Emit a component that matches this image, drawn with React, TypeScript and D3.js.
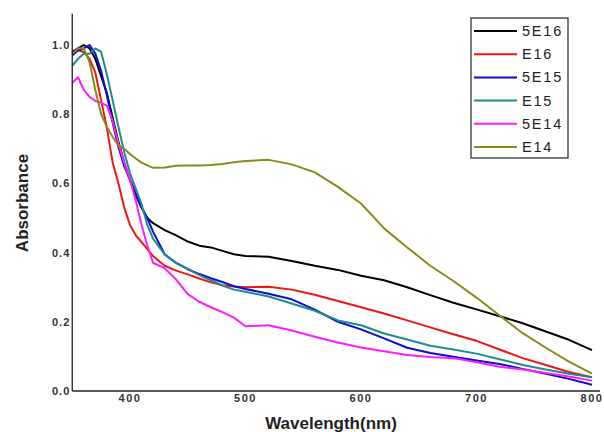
import React from 'react';
import * as d3 from 'd3';

const wavelengths = [350, 355, 360, 365, 370, 375, 380, 385, 390, 395, 400, 405, 410, 415, 420, 430, 440, 450, 460, 470, 480, 490, 500, 520, 540, 560, 580, 600, 620, 640, 660, 680, 700, 720, 740, 760, 780, 800];

const a5E16 = [0.98, 0.99, 1.0, 0.99, 0.96, 0.91, 0.86, 0.79, 0.72, 0.66, 0.61, 0.57, 0.53, 0.5, 0.485, 0.465, 0.45, 0.432, 0.42, 0.415, 0.405, 0.395, 0.39, 0.388, 0.376, 0.362, 0.35, 0.333, 0.32, 0.3, 0.277, 0.255, 0.236, 0.216, 0.196, 0.172, 0.148, 0.118];
const aE16 = [0.97, 0.985, 0.98, 0.96, 0.92, 0.84, 0.76, 0.66, 0.6, 0.53, 0.48, 0.45, 0.43, 0.41, 0.39, 0.362, 0.348, 0.337, 0.325, 0.314, 0.306, 0.302, 0.3, 0.301, 0.293, 0.278, 0.26, 0.242, 0.224, 0.204, 0.184, 0.164, 0.145, 0.12, 0.095, 0.075, 0.055, 0.04];
const a5E15 = [0.97, 0.985, 0.99, 1.0, 0.975, 0.925, 0.855, 0.775, 0.705, 0.65, 0.61, 0.565, 0.53, 0.5, 0.46, 0.395, 0.37, 0.352, 0.338, 0.326, 0.315, 0.303, 0.295, 0.281, 0.265, 0.235, 0.2, 0.178, 0.152, 0.125, 0.11, 0.099, 0.088, 0.078, 0.064, 0.05, 0.035, 0.018];
const aE15 = [0.94, 0.96, 0.975, 0.975, 0.99, 0.98, 0.915, 0.84, 0.763, 0.69, 0.63, 0.585, 0.54, 0.48, 0.44, 0.395, 0.37, 0.353, 0.335, 0.32, 0.305, 0.293, 0.287, 0.273, 0.253, 0.232, 0.204, 0.19, 0.166, 0.149, 0.131, 0.12, 0.108, 0.092, 0.075, 0.062, 0.05, 0.04];
const a5E14 = [0.89, 0.907, 0.87, 0.85, 0.838, 0.833, 0.825, 0.78, 0.715, 0.66, 0.61, 0.55, 0.48, 0.42, 0.37, 0.355, 0.322, 0.28, 0.258, 0.242, 0.228, 0.212, 0.187, 0.19, 0.175, 0.157, 0.14, 0.126, 0.115, 0.104, 0.098, 0.095, 0.083, 0.07, 0.062, 0.052, 0.042, 0.03];
const aE14 = [0.975, 0.99, 0.99, 0.95, 0.87, 0.8, 0.763, 0.734, 0.71, 0.7, 0.685, 0.672, 0.66, 0.652, 0.645, 0.646, 0.651, 0.652, 0.652, 0.653, 0.656, 0.661, 0.665, 0.668, 0.655, 0.632, 0.59, 0.542, 0.47, 0.415, 0.362, 0.318, 0.27, 0.218, 0.167, 0.125, 0.085, 0.05];

const seriesNames = ['5E16', 'E16', '5E15', 'E15', '5E14', 'E14'];
const seriesValues = [a5E16, aE16, a5E15, aE15, a5E14, aE14];
const seriesColors = ['#000000', '#ee1515', '#0b0bd2', '#1f8c8c', '#ff1cff', '#8a8a1a'];

const xTicks = [400, 500, 600, 700, 800];
const yTicks = [0, 0.2, 0.4, 0.6, 0.8, 1.0];

const App = () => {
  const width = 604;
  const height = 432;

  const x = d3.scaleLinear().domain([400, 800]).range([130, 592]);
  const y = d3.scaleLinear().domain([0, 1]).range([391, 45]);
  const x0 = x(350);
  const xEnd = 600;
  const yTop = y(1.09);

  const line = d3.line<number>()
    .x((d, i) => x(wavelengths[i]))
    .y(d => y(d))
    .curve(d3.curveLinear);

  const font = 'Arial, "Liberation Sans", sans-serif';

  return (
    <svg width={width} height={height} style={{ position: 'absolute', left: 0, top: 0, background: '#fff' }}>
      <rect x={0} y={0} width={width} height={height} fill="#fff" />

      {/* curves */}
      {seriesValues.map((vals, i) => (
        <path key={seriesNames[i]} d={line(vals) || ''} fill="none" stroke={seriesColors[i]} strokeWidth={2} strokeLinejoin="round" />
      ))}

      {/* axes */}
      <line x1={x0} x2={xEnd} y1={y(0)} y2={y(0)} stroke="#222" strokeWidth={1.3} />
      <line x1={x0} x2={x0} y1={y(0)} y2={yTop} stroke="#222" strokeWidth={1.3} />

      {xTicks.map(t => (
        <text key={t} x={x(t)} y={402} textAnchor="middle" fontFamily={font} fontWeight="bold" fontSize={11} letterSpacing={1.5} fill="#333">{t}</text>
      ))}
      {yTicks.map(t => (
        <text key={t} x={x0 - 2} y={y(t) + 4} textAnchor="end" fontFamily={font} fontWeight="bold" fontSize={11} letterSpacing={1} fill="#333">{t.toFixed(1)}</text>
      ))}

      <text x={331} y={429} textAnchor="middle" fontFamily={font} fontWeight="bold" fontSize={17} fill="#222">Wavelength(nm)</text>
      <text transform={`translate(28, 203) rotate(-90)`} textAnchor="middle" fontFamily={font} fontWeight="bold" fontSize={17} fill="#222">Absorbance</text>

      {/* legend */}
      <rect x={471} y={18} width={97} height={140} fill="#fff" stroke="#222" strokeWidth={1.2} />
      {seriesNames.map((name, i) => {
        const ly = 31 + i * 23.2;
        return (
          <g key={name}>
            <line x1={474} x2={517} y1={ly} y2={ly} stroke={seriesColors[i]} strokeWidth={2} />
            <text x={522} y={ly + 5} fontFamily={font} fontSize={14.5} letterSpacing={1.8} fill="#222">{name}</text>
          </g>
        );
      })}
    </svg>
  );
};

export default App;
